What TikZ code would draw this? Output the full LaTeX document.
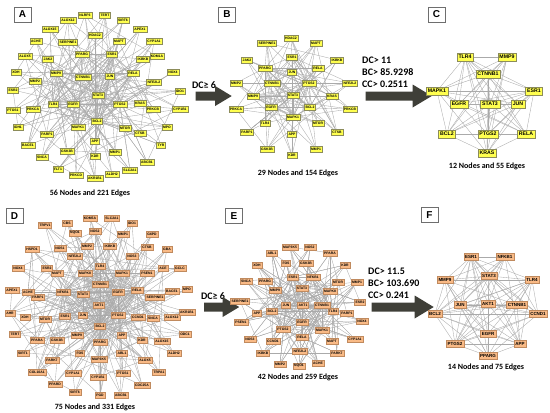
\documentclass[tikz,border=0pt]{standalone}
\usepackage{fontspec}
\setmainfont{Carlito}
\newfontfamily\labelfont{Liberation Sans}
\usetikzlibrary{shapes.arrows,backgrounds}

\definecolor{nodeyellow}{HTML}{FFFF4F}
\definecolor{yellowline}{HTML}{8C8C5A}
\definecolor{nodeorange}{HTML}{F9BA86}
\definecolor{orangeline}{HTML}{C08A5E}
\definecolor{linkgray}{HTML}{AAAAAA}
\definecolor{arrowgray}{HTML}{3F3F38}
\definecolor{boxgray}{HTML}{6E6E6E}

\tikzset{
  ynode/.style={draw=yellowline, fill=nodeyellow, line width=0.3pt, inner xsep=1.1pt, inner ysep=0pt,
    minimum height=6.3pt, font={\labelfont\bfseries\fontsize{3.4}{3.4}\selectfont}},
  onode/.style={ynode, draw=orangeline, fill=nodeorange},
  bignode/.style={minimum height=8pt, inner xsep=1.8pt, font={\labelfont\bfseries\fontsize{5.2}{5.2}\selectfont}},
  midnode/.style={minimum height=7pt, inner xsep=1.4pt, font={\labelfont\bfseries\fontsize{4.5}{4.5}\selectfont}},
  link/.style={draw=linkgray, line width=0.35pt},
  panelbox/.style={draw=boxgray, fill=white, line width=0.6pt, minimum width=17pt, minimum height=15pt,
    inner sep=0pt, font={\labelfont\bfseries\fontsize{10}{10}\selectfont}},
  captiontext/.style={font={\bfseries\fontsize{8}{8}\selectfont}},
  cutofftext/.style={align=left, anchor=west, inner sep=0pt, font={\bfseries\fontsize{10}{12}\selectfont}},
  bigarrow/.style={single arrow, fill=arrowgray, inner xsep=0pt, inner ysep=4.3pt,
    single arrow head extend=5.5pt, single arrow tip angle=62},
}

% hubs fully joined, every other node tied to a few hubs and one more node
\newcommand{\hubedges}[4]{%
  \foreach \p in {1,...,#2}{%
    \foreach \q in {\p,...,#2}{%
      \ifnum\p<\q \draw[link] (#1\p) -- (#1\q);\fi}}%
  \pgfmathtruncatemacro\firstouter{#2+1}%
  \foreach \p in {\firstouter,...,#3}{%
    \foreach \k in {1,...,#4}{%
      \pgfmathtruncatemacro\q{mod(\p*\k*7+\k*\k*5,#2)+1}%
      \draw[link] (#1\p) -- (#1\q);}%
    \pgfmathtruncatemacro\q{mod(\p*5+3,#3)+1}%
    \ifnum\q=\p\else\draw[link] (#1\p) -- (#1\q);\fi}%
}
% nearly complete graph
\newcommand{\denseedges}[2]{%
  \foreach \p in {1,...,#2}{%
    \foreach \q in {\p,...,#2}{%
      \pgfmathtruncatemacro\r{mod(\p+2*\q,6)}%
      \ifnum\p<\q \ifnum\r>0 \draw[link] (#1\p) -- (#1\q);\fi\fi}}%
}

\begin{document}
\begin{tikzpicture}[x=1pt, y=-1pt]
    \useasboundingbox (0,0) rectangle (550,413);

    % Panel A
    \foreach \name/\x/\y [count=\i] in {STAT3/98/95, CTNNB1/83/77, JUN/110/76, EGFR/73/104, PTGS2/120/104,
        MAPK1/78/127, BCL2/97/121, ESR1/112/54, PPARG/82/54, MMP9/56/73, TLR4/53/104, RELA/133/73,
        MTOR/125/128, KRAS/140/103, APP/95/141, GSK3B/67/151, PRKCA/33/109, PRKCB/153/109, MMP2/35/81,
        JAK2/48/59, IKBKB/143/59, NFE2L2/154/82, HDAC2/95/35, SERPINE1/68/42, MAPT/119/41, PARP1/47/134,
        KDR/95/156, MMP1/115/152, CTSB/140/133, ALOX12/68/20, NLRP3/85/15, TERT/105/15, SIRT6/123/20,
        APEX1/140/29, ALOX15/50/29, ACHE/36/41, CYP1A1/154/41, ALOX5/25/56, KDM1A/157/56, XDH/16/72,
        NOX4/173/72, ESR2/13/90, IDO1/180/91, PTGS1/13/110, CYP1B1/180/109, IDH1/18/127, MPO/167/127,
        BACE1/28/145, TYR/161/145, SNCA/42/157, ABCB1/147/162, SLC2A1/130/170, FLT1/58/169,
        PRKCD/76/175, ALDH2/112/174, AKR1B1/95/178}
        \node[ynode] (a\i) at (\x,\y) {\name};
    \begin{pgfonlayer}{background}
        \hubedges{a}{12}{56}{3}
    \end{pgfonlayer}
    \node[panelbox] (labA) at (22.5,14.5) {A};
    \node[captiontext] (capA) at (90,193) {56 Nodes and 221 Edges};

    % A to B
    \node[captiontext, font={\bfseries\fontsize{10}{10}\selectfont}] (cutAB) at (204,85) {DC≥ 6};
    \node[bigarrow, minimum height=36pt] (arrAB) at (210,96) {};

    % Panel B
    \foreach \name/\x/\y [count=\i] in {STAT3/293/95, CTNNB1/272/83, EGFR/271/107, JUN/292/72, PTGS2/309/83,
        BCL2/310/107, MAPK1/293/117, ESR1/292/57, PPARG/265/68, MMP9/253/96, RELA/318/68, KRAS/332/96,
        TLR4/265/123, MTOR/318/123, APP/292/134, HDAC2/291/38, SERPINE1/267/43, MAPT/316/43, JAK2/247/60,
        IKBKB/337/60, MMP2/236/83, NFE2L2/350/83, PRKCA/236/109, PRKCB/350/109, PARP1/247/132,
        CTSB/337/132, GSK3B/267/149, MMP1/316/149, KDR/292/155}
        \node[ynode] (b\i) at (\x,\y) {\name};
    \begin{pgfonlayer}{background}
        \hubedges{b}{10}{29}{4}
    \end{pgfonlayer}
    \node[panelbox] (labB) at (227,14.5) {B};
    \node[captiontext] (capB) at (298,173) {29 Nodes and 154 Edges};

    % B to C
    \node[cutofftext] (cutBC) at (362,72) {DC> 11\\BC> 85.9298\\CC> 0.2511};
    \node[bigarrow, minimum height=66pt, single arrow head extend=7pt] (arrBC) at (395,96) {};

    % Panel C
    \foreach \name/\x/\y [count=\i] in {TLR4/465/57, MMP9/507/57, CTNNB1/488/74, MAPK1/437/91, ESR1/534/91,
        EGFR/459/104, STAT3/490/104, JUN/518/104, BCL2/447/134, PTGS2/488/134, RELA/526/134, KRAS/487/153}
        \node[ynode, bignode] (c\i) at (\x,\y) {\name};
    \begin{pgfonlayer}{background}
        \denseedges{c}{12}
    \end{pgfonlayer}
    \node[panelbox] (labC) at (436.5,14.5) {C};
    \node[captiontext] (capC) at (487,166) {12 Nodes and 55 Edges};

    % Panel D
    \foreach \name/\x/\y [count=\i] in {AKT1/99/305, CTNNB1/100/284, STAT3/83/294, EGFR/118/292, JUN/83/315,
        PTGS2/118/315, BCL2/100/326, MAPK1/122/273, MAPK8/85/273, TLR4/100/266, NFKB1/63/292, ESR1/65/316,
        RELA/137/290, PPARG/100/342, MMP9/77/335, APP/122/335, CCND1/138/317, MTOR/45/319, GSK3B/57/340,
        FOS/80/353, MAP3K5/99/359, ABL1/122/353, PARP1/38/297, ACHE/28/292, MAPT/57/273, ESR2/47/268,
        NFE2L2/75/256, MMP2/87/246, IKBKB/110/246, NOS3/132/256, PSEN1/147/273, SERPINE1/155/297,
        SNCA/153/318, KDR/142/340, PARK7/52/360, CYP1A1/73/373, CYP1B1/98/377, PTGS1/123/373,
        ALOX5/145/360, KDM5A/90/218, SLC2A1/112/218, CBS/67/223, IDO1/132/223, NOS2/95/231,
        TRPV1/45/225, NQO1/75/233, MMP1/123/234, G6PD/152/234, HSPD1/32/249, NOS1/60/248, CTSB/147/247,
        GBA/167/249, NOX4/18/268, ACE/163/268, GCLC/180/268, APEX1/12/290, BACE1/172/291, MPO/187/289,
        AHR/10/313, XDH/25/317, ALOX12/172/317, AKR1B1/187/312, TERT/15/334, PPARA/37/340,
        ALOX15/162/341, ODC1/185/334, SIRT1/23/353, ALDH2/174/353, COL10A1/37/372, TRPA1/159/372,
        PPARD/55/384, CDC25A/142/385, SIRT6/75/392, PGD/100/395, ABCB1/121/395}
        \node[onode] (d\i) at (\x,\y) {\name};
    \begin{pgfonlayer}{background}
        \hubedges{d}{14}{75}{3}
    \end{pgfonlayer}
    \node[panelbox] (labD) at (14.5,216) {D};
    \node[captiontext] (capD) at (95,407) {75 Nodes and 331 Edges};

    % D to E
    \node[captiontext, font={\bfseries\fontsize{10}{10}\selectfont}] (cutDE) at (213,296) {DC≥ 6};
    \node[bigarrow, minimum height=35pt] (arrDE) at (218,307) {};

    % Panel E
    \foreach \name/\x/\y [count=\i] in {AKT1/303/305, STAT3/302/288, JUN/286/305, CTNNB1/322/305, EGFR/302/322,
        PTGS2/283/329, BCL2/272/311, MAPK1/322/330, MAPK8/330/291, TLR4/333/311, ESR1/293/277, NFKB1/313/277,
        MMP9/275/290, RELA/302/337, PPARG/265/281, MTOR/338/282, FOS/286/263, GSK3B/306/263, CCND1/273/341,
        MAPT/332/341, NFE2L2/300/351, PARP1/347/313, APP/257/313, SERPINE1/240/301, SNCA/246/281,
        XDH/257/265, ABL1/272/253, MAP3K5/290/247, NOS2/310/247, PPARA/330/253, KDR/345/265, MMP1/357/282,
        ESR2/360/302, NOX4/362/321, CYP1A1/355/339, PARK7/337/353, ACHE/318/363, NQO1/299/366,
        MMP2/280/364, IKBKB/263/353, NOS3/250/339, PSEN1/241/322}
        \node[onode] (e\i) at (\x,\y) {\name};
    \begin{pgfonlayer}{background}
        \hubedges{e}{12}{42}{5}
    \end{pgfonlayer}
    \node[panelbox] (labE) at (234,216) {E};
    \node[captiontext] (capE) at (298,377) {42 Nodes and 259 Edges};

    % E to F
    \node[cutofftext] (cutEF) at (368,283) {DC> 11.5\\BC> 103.690\\CC> 0.241};
    \node[bigarrow, minimum height=62pt, single arrow head extend=7pt] (arrEF) at (399,307) {};

    % Panel F
    \foreach \name/\x/\y [count=\i] in {ESR1/471/257, NFKB1/505/257, STAT3/489/276, MMP9/445/280, TLR4/532/280,
        JUN/460/305, AKT1/488/304, CTNNB1/517/305, BCL2/435/314, CCND1/538/314, EGFR/488/334,
        PTGS2/455/344, APP/520/344, PPARG/488/356}
        \node[onode, midnode] (f\i) at (\x,\y) {\name};
    \begin{pgfonlayer}{background}
        \denseedges{f}{14}
    \end{pgfonlayer}
    \node[panelbox] (labF) at (429.5,215) {F};
    \node[captiontext] (capF) at (486,367) {14 Nodes and 75 Edges};
\end{tikzpicture}
\end{document}
